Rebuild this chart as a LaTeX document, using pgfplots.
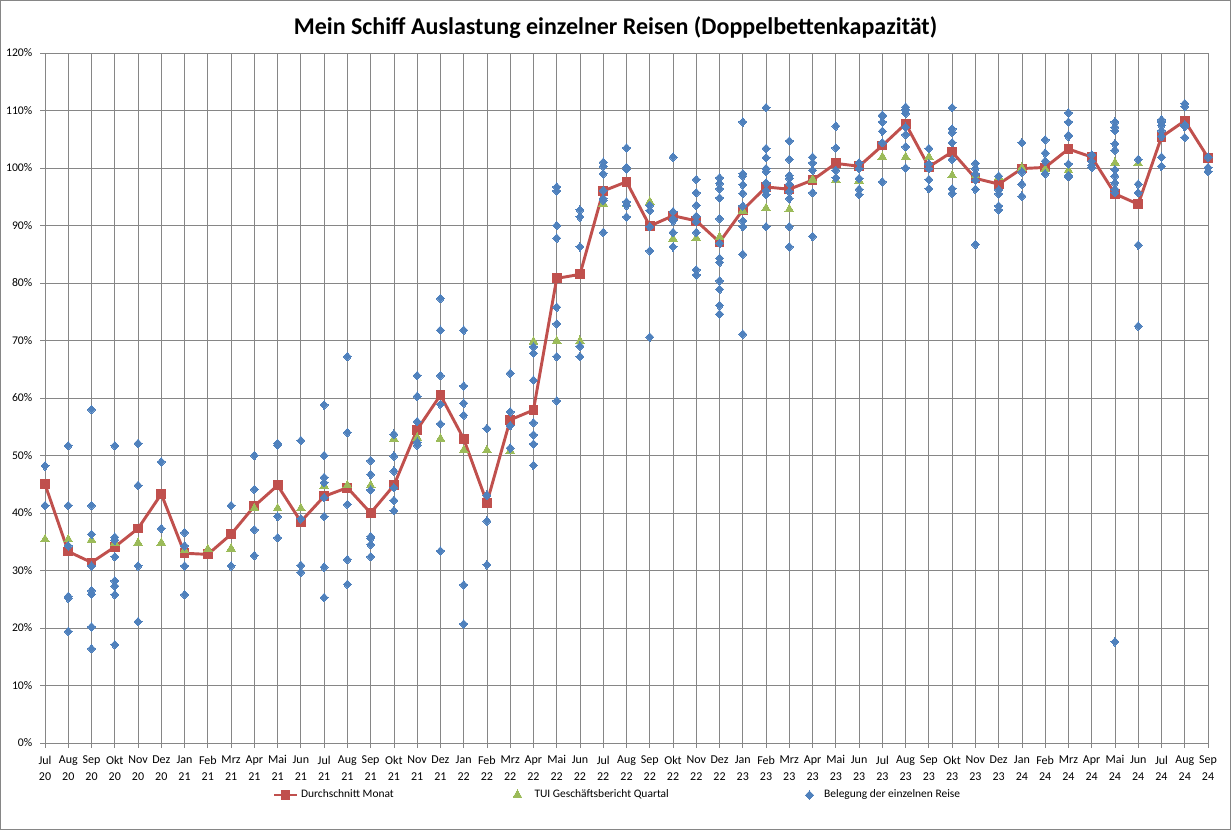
\documentclass[border=0pt]{standalone}
\usepackage{pgfplots}
\pgfplotsset{compat=1.18}
\usepackage{pgfplotstable}
\usepackage{fontspec}
\setmainfont{Carlito}
\definecolor{cred}{HTML}{C0504D}
\definecolor{cgreen}{HTML}{9BBB59}
\definecolor{cblue}{HTML}{4F81BD}
\definecolor{cgrid}{HTML}{868686}

\pgfplotstableread{
x y
0 45.0
1 33.3
2 31.4
3 34.1
4 37.3
5 43.3
6 33.0
7 32.8
8 36.3
9 41.2
10 44.8
11 38.5
12 42.9
13 44.4
14 40.0
15 44.8
16 54.5
17 60.5
18 52.9
19 41.8
20 56.2
21 57.9
22 80.8
23 81.5
24 96.0
25 97.6
26 89.9
27 91.7
28 90.8
29 87.1
30 92.7
31 96.7
32 96.3
33 97.9
34 100.8
35 100.3
36 103.9
37 107.7
38 100.2
39 102.8
40 98.2
41 97.2
42 99.9
43 100.1
44 103.3
45 101.9
46 95.5
47 93.7
48 105.4
49 108.2
50 101.8
}\avgdata

\pgfplotstableread{
x y
0 35.4
1 35.4
2 35.3
3 34.8
4 34.8
5 34.8
6 33.5
7 33.7
8 33.8
9 40.8
10 40.8
11 40.8
12 44.7
13 44.8
14 44.8
15 52.9
16 53.1
17 52.9
18 50.9
19 50.9
20 50.8
21 69.8
22 69.9
23 69.9
24 93.8
25 93.7
26 94.1
27 87.7
28 87.8
29 88.0
30 92.6
31 93.0
32 92.8
33 98.0
34 97.9
35 97.8
36 101.9
37 101.9
38 101.9
39 98.7
40 98.7
41 98.4
42 100.0
43 99.8
44 99.6
46 100.9
47 100.8
}\tuidata

\pgfplotstableread{
x y
0 48.2
0 41.3
1 51.7
1 41.3
1 34.3
1 25.5
1 25.2
1 19.4
2 58.0
2 41.3
2 36.3
2 30.8
2 26.5
2 25.9
2 20.2
2 16.4
3 51.7
3 35.8
3 35.3
3 32.4
3 28.2
3 27.3
3 25.8
3 17.1
4 52.1
4 44.8
4 30.8
4 21.1
5 48.9
5 37.3
6 36.6
6 34.3
6 30.8
6 25.8
8 41.3
8 30.8
9 50.0
9 44.1
9 37.1
9 32.6
10 52.1
10 51.8
10 39.4
10 35.7
11 52.6
11 39.0
11 30.9
11 29.7
12 58.8
12 50.0
12 46.2
12 45.3
12 42.7
12 39.4
12 30.6
12 25.3
13 67.2
13 54.0
13 41.5
13 31.9
13 27.6
14 49.1
14 46.7
14 44.0
14 35.9
14 35.6
14 34.5
14 32.4
15 53.7
15 49.9
15 47.3
15 44.4
15 42.2
15 40.4
16 63.9
16 60.3
16 55.9
16 52.3
16 51.8
17 77.3
17 71.8
17 63.9
17 58.9
17 55.5
17 33.4
18 71.8
18 62.1
18 59.1
18 57.0
18 27.5
18 20.7
19 54.7
19 43.1
19 38.6
19 31.0
20 64.3
20 57.6
20 55.2
20 51.3
21 68.9
21 67.8
21 63.1
21 55.7
21 53.6
21 52.0
21 48.3
22 96.7
22 96.0
22 90.0
22 87.8
22 75.8
22 72.9
22 67.2
22 59.5
23 92.7
23 91.5
23 86.3
23 69.0
23 67.2
24 101.0
24 100.3
24 99.0
24 96.1
24 94.7
24 94.4
24 88.8
25 103.5
25 100.1
25 99.8
25 94.1
25 93.5
25 91.5
26 93.5
26 92.6
26 89.8
26 85.6
26 70.6
27 101.9
27 92.4
27 91.2
27 90.8
27 88.8
27 86.3
28 98.0
28 95.7
28 93.5
28 91.6
28 90.7
28 88.8
28 82.3
28 81.4
29 98.3
29 97.3
29 96.4
29 94.8
29 91.2
29 86.9
29 84.3
29 83.6
29 80.4
29 78.9
29 76.1
29 74.6
30 108.0
30 99.0
30 98.6
30 97.1
30 95.6
30 93.4
30 90.8
30 89.8
30 85.0
30 71.1
31 110.5
31 103.4
31 101.8
31 99.9
31 99.4
31 97.4
31 96.1
31 95.4
31 89.8
32 104.7
32 101.5
32 98.7
32 98.2
32 97.2
32 95.9
32 94.7
32 89.8
32 86.3
33 101.9
33 100.9
33 99.6
33 95.7
33 88.1
34 107.3
34 103.5
34 99.6
34 98.3
35 100.9
35 99.9
35 98.2
35 96.3
35 95.4
36 109.2
36 109.0
36 108.0
36 106.4
36 104.4
36 97.6
37 110.6
37 110.1
37 109.5
37 107.1
37 105.8
37 103.7
37 100.0
38 103.4
38 100.7
38 99.9
38 98.0
38 96.4
39 110.5
39 106.8
39 106.2
39 104.4
39 101.5
39 96.4
39 95.6
40 100.8
40 99.9
40 99.0
40 97.9
40 96.3
40 86.7
41 98.6
41 96.2
41 95.5
41 93.4
41 92.7
42 104.4
42 99.3
42 97.2
42 95.1
43 104.9
43 102.6
43 101.2
43 99.0
44 109.6
44 108.0
44 105.7
44 105.5
44 100.7
44 98.7
44 98.5
45 102.3
45 101.2
45 100.5
45 100.1
46 108.0
46 107.1
46 106.5
46 104.2
46 103.1
46 99.7
46 98.6
46 97.4
46 96.3
46 95.7
46 17.6
47 101.5
47 97.2
47 95.7
47 86.6
47 72.5
48 108.4
48 108.0
48 107.4
48 106.5
48 105.5
48 101.9
48 100.3
49 111.2
49 110.7
49 107.5
49 107.2
49 105.3
50 101.9
50 100.1
50 99.4
}\tripdata

\begin{document}
\begin{tikzpicture}
\useasboundingbox (0,0) rectangle (923.25pt,622.5pt);
\draw[cgrid, line width=0.8pt] (0.5pt,0.5pt) rectangle (922.75pt,622pt);
\node[font=\fontsize{18}{20}\selectfont\bfseries] at (461.6pt,601.5pt) {Mein Schiff Auslastung einzelner Reisen (Doppelbettenkapazität)};
\begin{axis}[
  at={(33.75pt,65.25pt)}, anchor=south west,
  scale only axis,
  width=872.25pt, height=517.5pt,
  xmin=0, xmax=50, ymin=0, ymax=120,
  xtick={0,...,50},
  ytick={0,10,...,120},
  xticklabels={{Jul\\20},{Aug\\20},{Sep\\20},{Okt\\20},{Nov\\20},{Dez\\20},
    {Jan\\21},{Feb\\21},{Mrz\\21},{Apr\\21},{Mai\\21},{Jun\\21},{Jul\\21},{Aug\\21},{Sep\\21},{Okt\\21},{Nov\\21},{Dez\\21},
    {Jan\\22},{Feb\\22},{Mrz\\22},{Apr\\22},{Mai\\22},{Jun\\22},{Jul\\22},{Aug\\22},{Sep\\22},{Okt\\22},{Nov\\22},{Dez\\22},
    {Jan\\23},{Feb\\23},{Mrz\\23},{Apr\\23},{Mai\\23},{Jun\\23},{Jul\\23},{Aug\\23},{Sep\\23},{Okt\\23},{Nov\\23},{Dez\\23},
    {Jan\\24},{Feb\\24},{Mrz\\24},{Apr\\24},{Mai\\24},{Jun\\24},{Jul\\24},{Aug\\24},{Sep\\24}},
  yticklabel={\pgfmathprintnumber{\tick}\%},
  /pgf/number format/assume math mode=true,
  xticklabel style={align=center, font=\fontsize{9}{12.5}\selectfont, yshift=-2.5pt},
  yticklabel style={font=\fontsize{8.8}{10}\selectfont, xshift=-2.5pt},
  grid=major,
  major grid style={cgrid, line width=0.6pt},
  axis line style={cgrid, line width=0.6pt},
  tick style={cgrid, line width=0.6pt},
  tick align=outside,
  major tick length=3.5pt,
  axis x line*=bottom, axis y line*=left,
  clip=false,
  legend columns=3,
  legend style={at={(0.1958,-0.0754)}, anchor=west, draw=none, fill=none,
    inner sep=0pt, outer sep=0pt,
    font=\fontsize{8.6}{10}\selectfont},
]
\addplot[cred, line width=2.2pt, mark=square*, mark size=3.3pt, mark options={solid, fill=cred, draw=cred, line width=0pt}] table[x=x,y=y] {\avgdata};
\addlegendentry{\makebox[157pt][l]{Durchschnitt Monat}}
\addplot[only marks, mark=triangle*, mark size=3.8pt, mark options={fill=cgreen, draw=cgreen, line width=0pt}] table[x=x,y=y] {\tuidata};
\addlegendentry{\makebox[208.75pt][l]{\hspace{7.5pt}TUI Geschäftsbericht Quartal}}
\addplot[only marks, mark=diamond*, mark size=3.2pt, mark options={fill=cblue, draw=cblue, line width=0pt, xscale=1.25}] table[x=x,y=y] {\tripdata};
\addlegendentry{\hspace{6pt}Belegung der einzelnen Reise}
\end{axis}
\end{tikzpicture}
\end{document}
